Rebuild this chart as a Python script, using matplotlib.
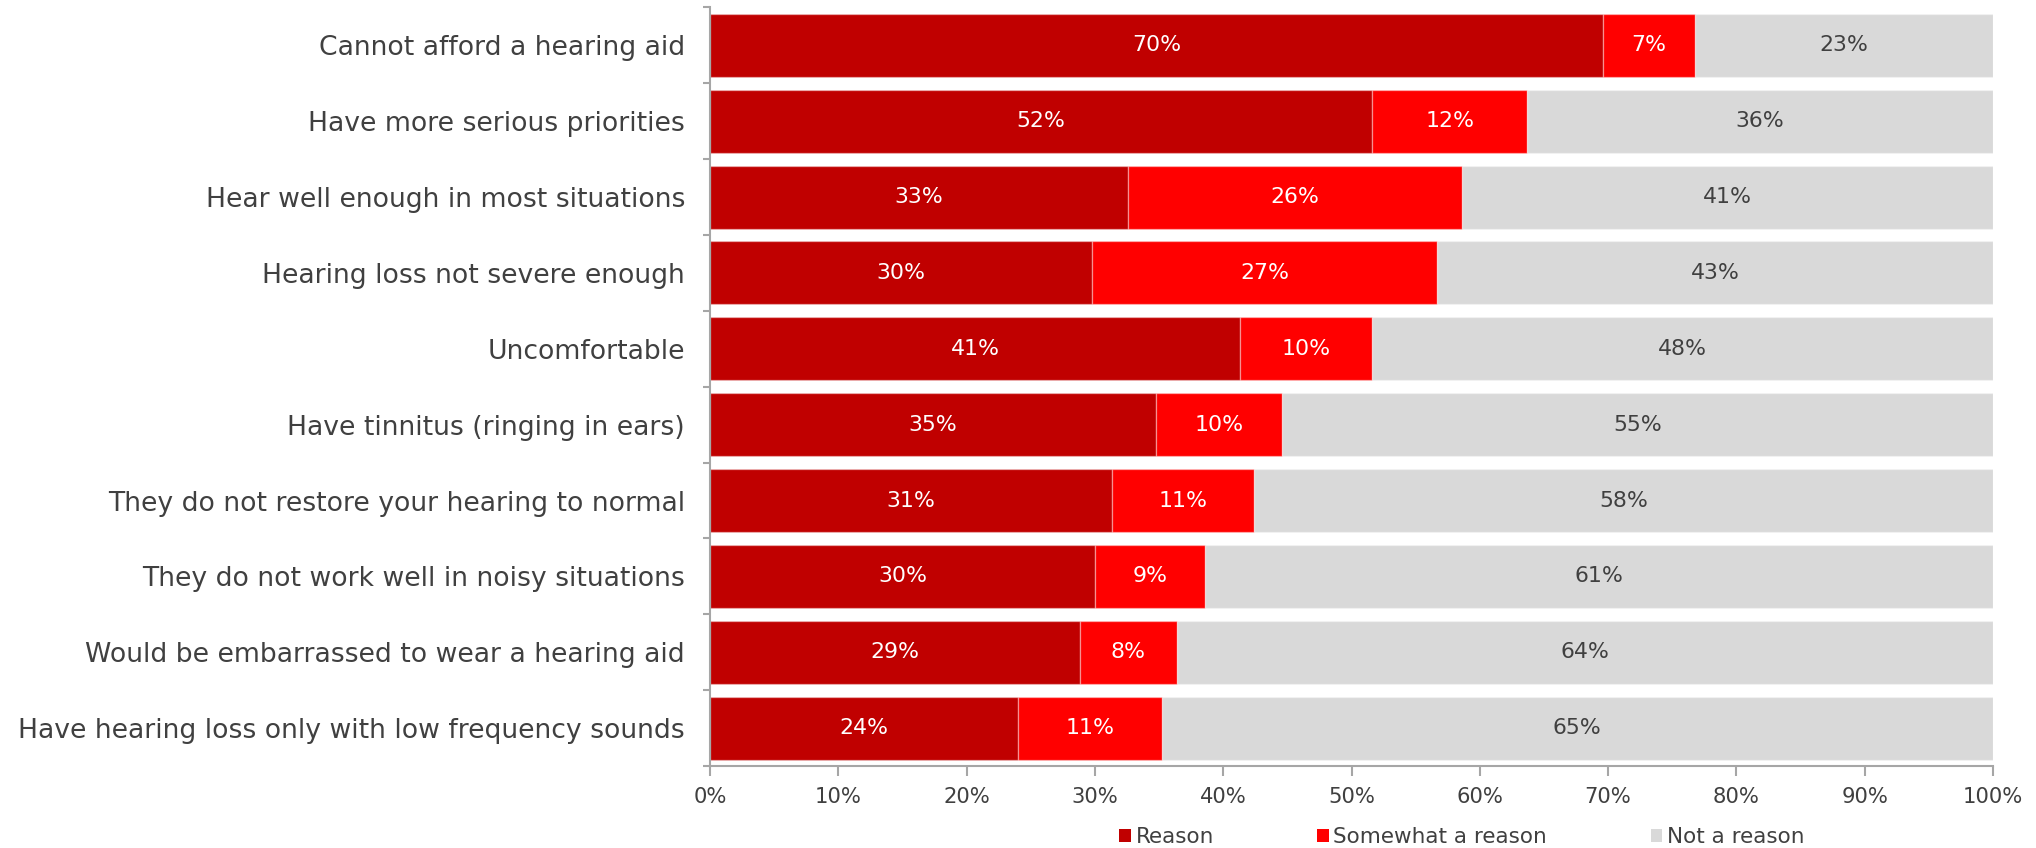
import matplotlib
matplotlib.use('Agg')
from matplotlib import pyplot as plt
from matplotlib.patches import Patch
import numpy as np

categories = [
    'Cannot afford a hearing aid',
    'Have more serious priorities',
    'Hear well enough in most situations',
    'Hearing loss not severe enough',
    'Uncomfortable',
    'Have tinnitus (ringing in ears)',
    'They do not restore your hearing to normal',
    'They do not work well in noisy situations',
    'Would be embarrassed to wear a hearing aid',
    'Have hearing loss only with low frequency sounds',
]
reason = [69.6, 51.6, 32.6, 29.8, 41.3, 34.8, 31.3, 30.0, 28.8, 24.0]
somewhat = [7.2, 12.1, 26.0, 26.9, 10.3, 9.8, 11.1, 8.6, 7.6, 11.2]
not_reason = [23.2, 36.3, 41.4, 43.3, 48.4, 55.4, 57.6, 61.4, 63.6, 64.8]
series_names = ['Reason', 'Somewhat a reason', 'Not a reason']
x_ticks = [0, 10, 20, 30, 40, 50, 60, 70, 80, 90, 100]

colors = ['#C00000', '#FF0000', '#D9D9D9']
label_colors = ['white', 'white', '#404040']
text_color = '#404040'
axis_color = '#A6A6A6'

fig = plt.figure(figsize=(20.36, 8.48), dpi=100)
ax = fig.add_axes([710 / 2036, 1 - 766 / 848, 1283 / 2036, (766 - 7.5) / 848])

y = np.arange(len(categories))
left = np.zeros(len(categories))
for vals, col, lcol in zip([reason, somewhat, not_reason], colors, label_colors):
    vals = np.array(vals)
    ax.barh(y, vals, left=left, height=0.83, color=col,
            edgecolor=(1, 1, 1, 0.35), linewidth=1)
    for yi, v, l in zip(y, vals, left):
        ax.text(l + v / 2, yi, f'{v:.0f}%', ha='center', va='center',
                color=lcol, fontsize=15.8)
    left += vals

ax.set_xlim(0, 100)
ax.set_ylim(len(categories) - 0.5, -0.5)
ax.set_xticks(x_ticks)
ax.set_xticklabels([f'{t}%' for t in x_ticks])
ax.set_yticks(y)
ax.set_yticklabels(categories)
ax.set_yticks(np.arange(len(categories) + 1) - 0.5, minor=True)

ax.tick_params(axis='y', which='major', length=0, pad=18, labelsize=19.2,
               labelcolor=text_color)
ax.tick_params(axis='y', which='minor', length=5, width=1.5, color=axis_color)
ax.tick_params(axis='x', which='major', length=7, width=1.5, color=axis_color,
               labelsize=15.2, labelcolor=text_color, pad=8)

for s in ['top', 'right']:
    ax.spines[s].set_visible(False)
for s in ['left', 'bottom']:
    ax.spines[s].set_color(axis_color)
    ax.spines[s].set_linewidth(1.5)

handles = [Patch(facecolor=c, edgecolor='none') for c in colors]
fig.legend(handles, series_names, loc='center', bbox_to_anchor=(0.718, 0.013),
           ncol=3, frameon=False, borderpad=0, fontsize=15.5,
           handlelength=0.55, handleheight=0.6, handletextpad=0.2,
           columnspacing=4.8, labelcolor=text_color)

fig.savefig('out.png', dpi=100)
